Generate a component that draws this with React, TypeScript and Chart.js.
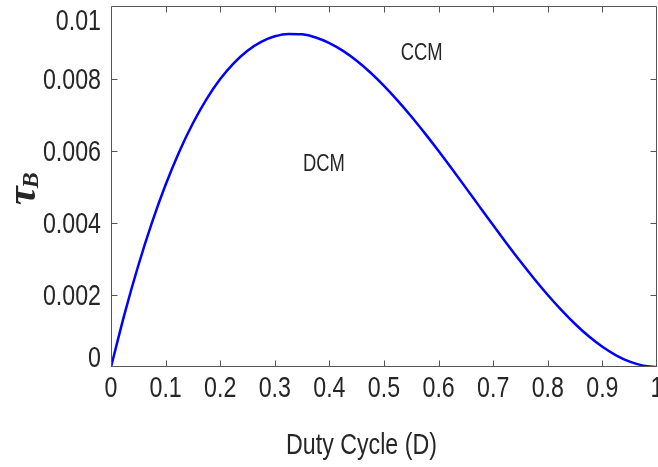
import React, { useEffect, useRef } from "react";
import { Chart, registerables } from "chart.js";

Chart.register(...registerables);

// Duty cycle samples (x) and tau_B (y)
const D_VALUES = [
  0, 0.025, 0.05, 0.075, 0.1, 0.125, 0.15, 0.175, 0.2, 0.225, 0.25, 0.275, 0.3,
  0.325, 0.35, 0.375, 0.4, 0.425, 0.45, 0.475, 0.5, 0.525, 0.55, 0.575, 0.6,
  0.625, 0.65, 0.675, 0.7, 0.725, 0.75, 0.775, 0.8, 0.825, 0.85, 0.875, 0.9,
  0.925, 0.95, 0.975, 1,
];
const TAU_VALUES = [
  0, 0.001485, 0.00282, 0.004011, 0.005063, 0.005981, 0.006773, 0.007444,
  0.008, 0.008446, 0.008789, 0.009034, 0.009188, 0.009255, 0.009242, 0.009155,
  0.009, 0.008782, 0.008508, 0.008183, 0.007813, 0.007403, 0.006961, 0.006491,
  0.006, 0.005493, 0.004977, 0.004456, 0.003938, 0.003427, 0.00293, 0.002452,
  0.002, 0.001579, 0.001195, 0.000854, 0.000563, 0.000325, 0.000148, 0.000038, 0,
];

const X_TICKS = [0, 0.1, 0.2, 0.3, 0.4, 0.5, 0.6, 0.7, 0.8, 0.9, 1];
const X_TICK_LABELS = ["0", "0.1", "0.2", "0.3", "0.4", "0.5", "0.6", "0.7", "0.8", "0.9", "1"];
const Y_TICKS = [0, 0.002, 0.004, 0.006, 0.008, 0.01];
const Y_TICK_LABELS = ["0", "0.002", "0.004", "0.006", "0.008", "0.01"];

const REGION_LABELS = ["CCM", "DCM"];
const REGION_X = [0.569, 0.39];
const REGION_Y = [0.00875, 0.00569];

const X_TITLE = "Duty Cycle (D)";

const FONT = "'Liberation Sans', Arial, sans-serif";
const NARROW = 0.8;
const TEXT_COLOR = "#262626";
const AXIS_COLOR = "#555555";

function narrowText(ctx: CanvasRenderingContext2D, text: string, x: number, y: number, size: number, align: CanvasTextAlign) {
  ctx.save();
  ctx.translate(x, y);
  ctx.scale(NARROW, 1);
  ctx.font = `${size}px ${FONT}`;
  ctx.textAlign = align;
  ctx.textBaseline = "alphabetic";
  ctx.fillText(text, 0, 0);
  ctx.restore();
}

const framePlugin = {
  id: "matlabFrame",
  afterDraw(chart: any) {
    const ctx = chart.ctx;
    const { left, right, top, bottom } = chart.chartArea;
    const xs = chart.scales.x;
    const ys = chart.scales.y;
    ctx.save();
    // box
    ctx.strokeStyle = AXIS_COLOR;
    ctx.lineWidth = 1;
    const L = Math.round(left) + 0.5;
    const R = Math.round(right) - 0.5;
    const T = Math.round(top) + 0.5;
    const B = Math.round(bottom) - 0.5;
    ctx.beginPath();
    ctx.rect(L, T, R - L, B - T);
    ctx.stroke();
    // ticks (inward, all four sides)
    const tl = 6;
    ctx.beginPath();
    X_TICKS.forEach((v) => {
      const px = Math.round(xs.getPixelForValue(v)) + 0.5;
      if (px <= L + 1 || px >= R - 1) return;
      ctx.moveTo(px, B);
      ctx.lineTo(px, B - tl);
      ctx.moveTo(px, T);
      ctx.lineTo(px, T + tl);
    });
    Y_TICKS.forEach((v) => {
      const py = Math.round(ys.getPixelForValue(v)) + 0.5;
      if (py <= T + 1 || py >= B - 1) return;
      ctx.moveTo(L, py);
      ctx.lineTo(L + tl, py);
      ctx.moveTo(R, py);
      ctx.lineTo(R - tl, py);
    });
    ctx.stroke();

    ctx.fillStyle = TEXT_COLOR;
    // x tick labels
    X_TICKS.forEach((v, i) => {
      narrowText(ctx, X_TICK_LABELS[i], xs.getPixelForValue(v), bottom + 29.5, 29, "center");
    });
    // y tick labels (kept inside axis extent like the original)
    Y_TICKS.forEach((v, i) => {
      let cy = ys.getPixelForValue(v);
      cy = Math.min(Math.max(cy, top + 14), bottom - 10);
      narrowText(ctx, Y_TICK_LABELS[i], left - 10, cy + 10.4, 29, "right");
    });

    // x title
    narrowText(ctx, X_TITLE, 361.5, 453.5, 29, "center");

    // region annotations
    REGION_LABELS.forEach((t, i) => {
      const px = xs.getPixelForValue(REGION_X[i]);
      const py = ys.getPixelForValue(REGION_Y[i]);
      narrowText(ctx, t, px, py + 8.3, 23, "center");
    });

    // y title: tau_B rotated
    ctx.save();
    ctx.translate(35, 205);
    ctx.rotate(-Math.PI / 2);
    ctx.textAlign = "left";
    ctx.textBaseline = "alphabetic";
    ctx.font = `italic bold 42px 'Liberation Serif', 'DejaVu Serif', serif`;
    ctx.fillText("\u03C4", 0, 0);
    const w = ctx.measureText("\u03C4").width;
    ctx.font = `italic bold 24px 'Liberation Serif', 'DejaVu Serif', serif`;
    ctx.fillText("B", w - 2, 2.5);
    ctx.restore();

    ctx.restore();
  },
};

export default function App() {
  const ref = useRef<HTMLCanvasElement | null>(null);
  useEffect(() => {
    const canvas = ref.current;
    if (!canvas) return;
    const chart = new Chart(canvas, {
      type: "scatter",
      data: {
        datasets: [
          {
            data: D_VALUES.map((d, i) => ({ x: d, y: TAU_VALUES[i] })),
            showLine: true,
            borderColor: "#0000ff",
            backgroundColor: "#0000ff",
            borderWidth: 2.5,
            pointRadius: 0,
            cubicInterpolationMode: "monotone",
            fill: false,
          } as any,
        ],
      },
      options: {
        responsive: false,
        animation: false,
        events: [],
        layout: { padding: { left: 0, top: 6, right: 1, bottom: 0 } },
        plugins: { legend: { display: false }, tooltip: { enabled: false } },
        scales: {
          x: {
            type: "linear",
            min: 0,
            max: 1,
            grid: { display: false, drawTicks: false },
            border: { display: false },
            afterBuildTicks: (s: any) => {
              s.ticks = X_TICKS.map((v) => ({ value: v }));
            },
            ticks: { display: false },
            afterFit: (s: any) => {
              s.height = 100;
              s.paddingLeft = 0;
              s.paddingRight = 0;
            },
          },
          y: {
            type: "linear",
            min: 0,
            max: 0.01003,
            grid: { display: false, drawTicks: false },
            border: { display: false },
            afterBuildTicks: (s: any) => {
              s.ticks = Y_TICKS.map((v) => ({ value: v }));
            },
            ticks: { display: false },
            afterFit: (s: any) => {
              s.width = 111;
              s.paddingTop = 0;
              s.paddingBottom = 0;
            },
          },
        },
      } as any,
      plugins: [framePlugin],
    });
    return () => chart.destroy();
  }, []);
  return (
    <div style={{ position: "fixed", left: 0, top: 0, width: 658, height: 467, background: "#fff" }}>
      <canvas ref={ref} width={658} height={467} style={{ display: "block", width: 658, height: 467 }} />
    </div>
  );
}
